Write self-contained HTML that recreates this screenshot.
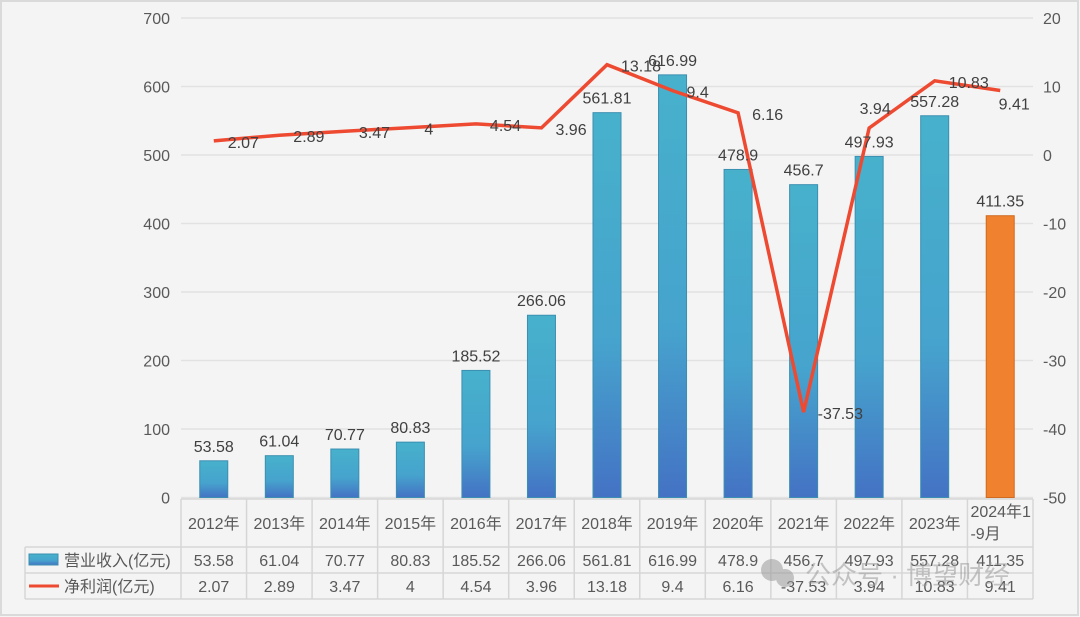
<!DOCTYPE html>
<html><head><meta charset="utf-8"><style>
html,body{margin:0;padding:0;background:#f4f4f4}
svg{display:block;font-family:"Liberation Sans","Noto Sans CJK SC",sans-serif}
</style></head><body>
<svg id="c" width="1080" height="617" viewBox="0 0 1080 617" xmlns="http://www.w3.org/2000/svg">
<defs>
<linearGradient id="bg" x1="0" y1="0" x2="0" y2="1"><stop offset="0" stop-color="#47b1cc"/><stop offset="0.6" stop-color="#46a3cd"/><stop offset="1" stop-color="#4472c4"/></linearGradient>
</defs>
<rect x="1" y="1" width="1077" height="614" fill="#f4f4f4" stroke="#dadada" stroke-width="2"/>
<g id="grid"></g><g id="bars"></g><g id="line"></g><g id="labels"></g><g id="axes"></g><g id="table"></g>
<g opacity="0.55">
<circle cx="772" cy="570" r="11" fill="#9a9a9a"/><circle cx="785" cy="578" r="9" fill="#9a9a9a"/>
<text x="805" y="584" font-size="26" fill="#9a9a9a">公众号 · 博望财经</text></g>
</svg>
<script>
const categories=["2012年","2013年","2014年","2015年","2016年","2017年","2018年","2019年","2020年","2021年","2022年","2023年","2024年1-9月"];
const revenue=[53.58,61.04,70.77,80.83,185.52,266.06,561.81,616.99,478.9,456.7,497.93,557.28,411.35];
const profit=[2.07,2.89,3.47,4,4.54,3.96,13.18,9.4,6.16,-37.53,3.94,10.83,9.41];
const leftTicks=[0,100,200,300,400,500,600,700];
const rightTicks=[20,10,0,-10,-20,-30,-40,-50];
const NS="http://www.w3.org/2000/svg";
const X0=181,X1=1033,Y0=497.5,Y1=18,n=categories.length,cw=(X1-X0)/n;
const xC=i=>X0+cw*(i+0.5);
const yL=v=>Y0-(v/700)*(Y0-Y1);
const yR=v=>Y0-((v+50)/70)*(Y0-Y1);
function el(t,a,p,txt){const e=document.createElementNS(NS,t);for(const k in a)e.setAttribute(k,a[k]);if(txt!==undefined)e.textContent=txt;document.getElementById(p).appendChild(e);return e;}
const fc="#595959";
leftTicks.forEach(v=>{
 const g=el('line',{x1:X0,x2:X1,y1:yL(v),y2:yL(v),stroke:'#e2e2e2','stroke-width':1.5},'grid');
 
 
 const t=el('text',{x:170,y:yL(v)+6,'text-anchor':'end','font-size':16,fill:fc},'axes',v);
 
 
});
rightTicks.forEach(v=>{
 const t=el('text',{x:1043,y:yR(v)+6,'font-size':16,fill:fc},'axes',v);
 
 
});
const bw=28;
revenue.forEach((v,i)=>{
 const last=i===n-1;
 const r=el('rect',{x:xC(i)-bw/2,y:yL(v),width:bw,height:Y0-yL(v),fill:last?'#f0812e':'url(#bg)',stroke:last?'#d06a20':'#3b8fb0','stroke-width':1},'bars');
 
 
 const t=el('text',{x:xC(i),y:yL(v)-9,'text-anchor':'middle','font-size':16,fill:'#404040'},'labels',v);
 
 
});
const pl=el('polyline',{points:profit.map((v,i)=>xC(i)+','+yR(v)).join(' '),fill:'none',stroke:'#ee4a32','stroke-width':3.5,'stroke-linejoin':'miter'},'line');


profit.forEach((v,i)=>{
 let dx=14,dy=7,anchor='start';
 if(i===10){dx=6;dy=-14;anchor='middle';}
 if(i===12){dx=14;dy=19;anchor='middle';}
 const t=el('text',{x:xC(i)+dx,y:yR(v)+dy,'text-anchor':anchor,'font-size':16,fill:'#404040'},'labels',v);
 
 
});
const TY0=499,TY1=547,TY2=573,TY3=599,TL=25;
const tc='#d6d6d6';
[[X0,TY0,X1,TY0],[TL,TY1,X1,TY1],[TL,TY2,X1,TY2],[TL,TY3,X1,TY3],[TL,TY1,TL,TY3]].forEach(a=>{
 const l=el('line',{x1:a[0],y1:a[1],x2:a[2],y2:a[3],stroke:tc,'stroke-width':1.5},'table');
 
 
});
for(let i=0;i<=n;i++){
 const l=el('line',{x1:X0+cw*i,y1:TY0,x2:X0+cw*i,y2:TY3,stroke:tc,'stroke-width':1.5},'table');
 
 
}
categories.forEach((c,i)=>{
 if(i===n-1){
  const t1=el('text',{x:X0+cw*i+3,y:517,'font-size':16,fill:fc},'table','2024年1');
  
  
  const t2=el('text',{x:X0+cw*i+3,y:539,'font-size':16,fill:fc},'table','-9月');
  
  
 } else {
  const t=el('text',{x:xC(i),y:529,'text-anchor':'middle','font-size':16,fill:fc},'table',c);
  
  
 }
 const a=el('text',{x:xC(i),y:566,'text-anchor':'middle','font-size':16,fill:fc},'table',revenue[i]);
 
 
 const b=el('text',{x:xC(i),y:592,'text-anchor':'middle','font-size':16,fill:fc},'table',profit[i]);
 
 
});
const k1=el('rect',{x:29,y:554,width:29,height:11,fill:'url(#bg)',stroke:'#3b8fb0'},'table');


const l1=el('text',{x:64,y:566,'font-size':16,fill:fc},'table','营业收入(亿元)');


const k2=el('line',{x1:29,x2:59,y1:586,y2:586,stroke:'#ee4a32','stroke-width':3},'table');


const l2=el('text',{x:64,y:592,'font-size':16,fill:fc},'table','净利润(亿元)');


</script>
</body></html>
